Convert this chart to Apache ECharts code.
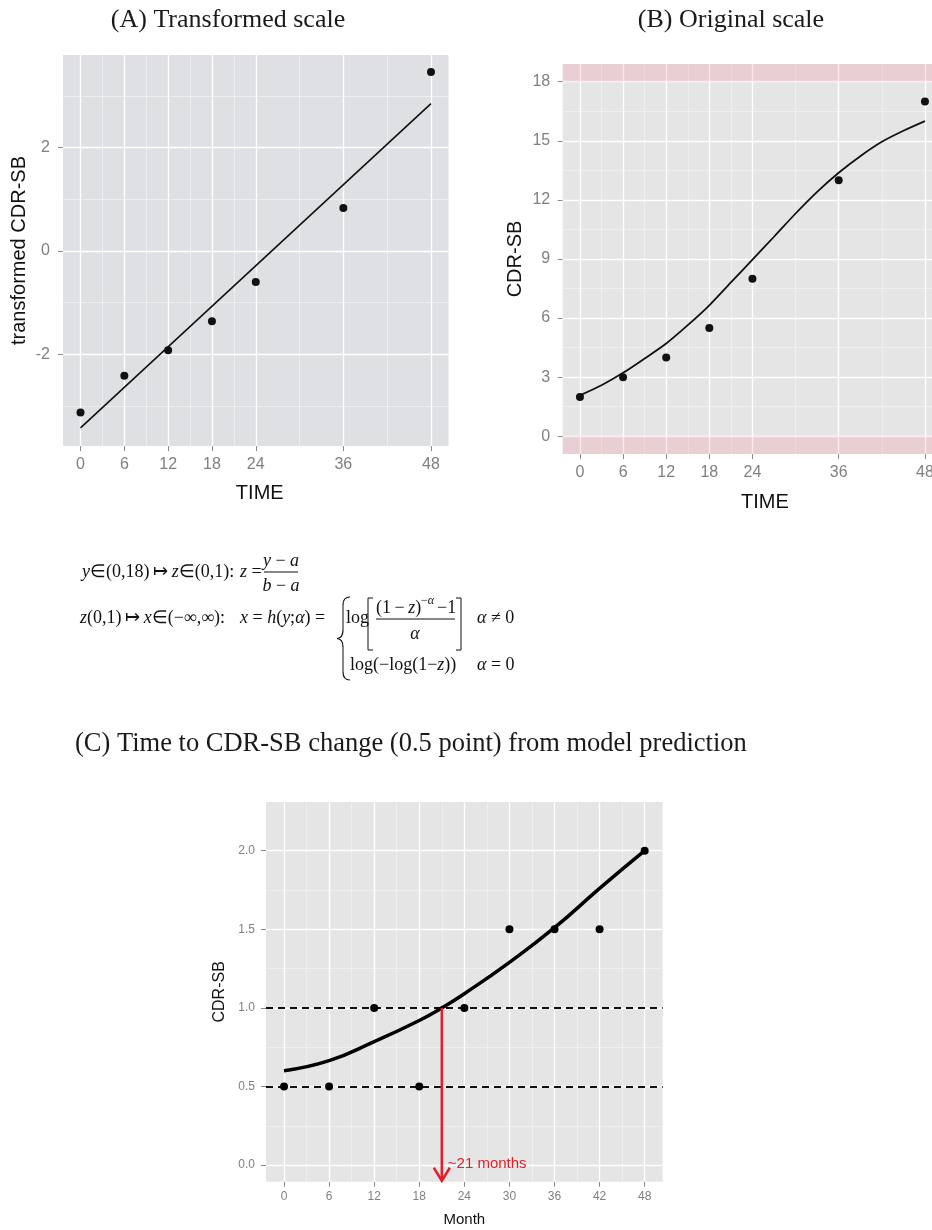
<!DOCTYPE html>
<html>
<head>
<meta charset="utf-8">
<script src="https://cdn.jsdelivr.net/npm/echarts@6/dist/echarts.min.js"></script>
<style>
html,body{margin:0;padding:0;background:#fff;}
#chart{width:932px;height:1230px;}
</style>
</head>
<body>
<div id="chart"></div>
<script>
// ---------- data ----------
// Panel A: transformed scale
const timeA = [0, 6, 12, 18, 24, 36, 48];
const transformedA = [-3.12, -2.41, -1.92, -1.36, -0.60, 0.83, 3.46];
const fitTimeA = [0, 48];
const fitTransformedA = [-3.42, 2.85];

// Panel B: original scale
const timeB = [0, 6, 12, 18, 24, 36, 48];
const cdrB = [2, 3, 4, 5.5, 8, 13, 17];
const curveTimeB = [0, 3, 6, 9, 12, 15, 18, 21, 24, 27, 30, 33, 36, 39, 42, 45, 48];
const curveCdrB = [2.08, 2.59, 3.22, 3.95, 4.71, 5.64, 6.65, 7.81, 8.97, 10.13, 11.31, 12.41, 13.38, 14.22, 14.95, 15.51, 16.0];
const boundsB = [0, 18]; // scale limits (a, b)

// Panel C: time to change
const monthC = [0, 6, 12, 18, 24, 30, 36, 42, 48];
const cdrC = [0.5, 0.5, 1.0, 0.5, 1.0, 1.5, 1.5, 1.5, 2.0];
const curveMonthC = [0, 6, 12, 18, 21, 24, 30, 36, 42, 48];
const curveCdrC = [0.60, 0.664, 0.785, 0.92, 1.0, 1.09, 1.29, 1.51, 1.76, 2.0];
const thresholdsC = [0.5, 1.0];
const arrowMonth = 21;
const arrowFrom = 1.0;
const arrowTo = -0.1;
const arrowLabel = '~21 months';

// ticks
const xTicksAB = [0, 6, 12, 18, 24, 36, 48];
const xMinorAB = [3, 9, 15, 21, 30, 42];
const yTicksA = [-2, 0, 2];
const yMinorA = [-3, -1, 1, 3];
const yTicksB = [0, 3, 6, 9, 12, 15, 18];
const yMinorB = [1.5, 4.5, 7.5, 10.5, 13.5, 16.5];
const xTicksC = [0, 6, 12, 18, 24, 30, 36, 42, 48];
const xMinorC = [3, 9, 15, 21, 27, 33, 39, 45];
const yTicksC = [0, 0.5, 1.0, 1.5, 2.0];
const yMinorC = [0.25, 0.75, 1.25, 1.75];

// axis ranges
const xRange = [-2.4, 50.4];
const yRangeA = [-3.77, 3.79];
const yRangeB = [-0.9, 18.9];
const yRangeC = [-0.106, 2.31];

// ---------- helpers ----------
const SANS = '"Liberation Sans", Arial, sans-serif';
const SERIF = '"Liberation Serif", "Times New Roman", serif';
const zip = (a, b) => a.map((v, i) => [v, b[i]]);

function gridLines(xMajor, xMinor, yMajor, yMinor) {
  const major = {color: '#ffffff', width: 1.4, type: 'solid'};
  const minor = {color: '#f3f3f3', width: 0.7, type: 'solid'};
  return [].concat(
    xMinor.map(v => ({xAxis: v, lineStyle: minor})),
    yMinor.map(v => ({yAxis: v, lineStyle: minor})),
    xMajor.map(v => ({xAxis: v, lineStyle: major})),
    yMajor.map(v => ({yAxis: v, lineStyle: major}))
  );
}

const TICK = {show: true, inside: false, length: 5, lineStyle: {color: '#8a8a8a', width: 1}};
function xAxisDef(idx, ticks, fontSize, margin, name, nameSize, nameGap, shift) {
  return {
    type: 'value', gridIndex: idx, min: xRange[0], max: xRange[1],
    axisLine: {show: true, onZero: false, lineStyle: {color: 'rgba(0,0,0,0)', width: 0}},
    splitLine: {show: false},
    axisTick: Object.assign({customValues: ticks}, TICK),
    axisLabel: {customValues: ticks, color: '#808080', fontSize: fontSize, fontFamily: SANS, margin: margin},
    name: name, nameLocation: 'middle', nameGap: nameGap, nameMoveOverlap: false,
    nameTextStyle: {fontSize: nameSize, fontFamily: SANS, color: '#111', padding: [0, 0, 0, shift]}
  };
}
function yAxisDef(idx, range, ticks, fontSize, margin, name, nameSize, nameGap, fmt) {
  return {
    type: 'value', gridIndex: idx, min: range[0], max: range[1],
    axisLine: {show: true, onZero: false, lineStyle: {color: 'rgba(0,0,0,0)', width: 0}},
    splitLine: {show: false},
    axisTick: Object.assign({customValues: ticks}, TICK),
    axisLabel: {customValues: ticks, color: '#808080', fontSize: fontSize, fontFamily: SANS, margin: margin,
      formatter: fmt || (v => String(v))},
    name: name, nameLocation: 'middle', nameGap: nameGap, nameRotate: 90, nameMoveOverlap: false,
    nameTextStyle: {fontSize: nameSize, fontFamily: SANS, color: '#111'}
  };
}

// ---------- formula graphics ----------
const FS = 18;
const TS = '\u2009'; // thin space
function ftext(x, y, text, align, size) {
  const s = size || FS;
  return {
    type: 'text', x: x, y: y, silent: true,
    style: {
      text: text, fontSize: s, fontFamily: SERIF, fill: '#111',
      align: align || 'left', verticalAlign: 'middle',
      textAlign: align || 'left', textVerticalAlign: 'middle',
      rich: {i: {fontStyle: 'italic', fontSize: s, fontFamily: SERIF, fill: '#111'}}
    }
  };
}
function fline(x1, y1, x2, y2) {
  return {type: 'line', silent: true, shape: {x1: x1, y1: y1, x2: x2, y2: y2}, style: {stroke: '#111', lineWidth: 1}};
}
function fcurve(x1, y1, cx, cy, x2, y2) {
  return {type: 'bezierCurve', silent: true, shape: {x1: x1, y1: y1, cpx1: cx, cpy1: cy, x2: x2, y2: y2},
          style: {stroke: '#111', lineWidth: 1.2, fill: null}};
}
function fpoly(points) {
  return {type: 'polyline', silent: true, shape: {points: points}, style: {stroke: '#111', lineWidth: 1, fill: null}};
}
const formula = [
  ftext(82, 572, '{i|y}∈(0,18)' + TS + '↦' + TS + '{i|z}∈(0,1):'),
  ftext(240, 572, '{i|z} ='),
  ftext(281, 561, '{i|y} − {i|a}', 'center'),
  fline(264, 572, 298, 572),
  ftext(281, 586, '{i|b} − {i|a}', 'center'),
  ftext(80, 618, '{i|z}(0,1)' + TS + '↦' + TS + '{i|x}∈(−∞,∞):'),
  ftext(240, 618, '{i|x} = {i|h}({i|y};{i|α}) ='),
  fcurve(350, 597, 343, 597, 343, 605),
  fline(343, 605, 343, 630),
  fcurve(343, 630, 343, 638, 337, 638.5),
  fcurve(337, 638.5, 343, 639, 343, 647),
  fline(343, 647, 343, 672),
  fcurve(343, 672, 343, 680, 350, 680),
  ftext(346, 618, 'log'),
  fpoly([[373, 598], [368, 598], [368, 650], [373, 650]]),
  fpoly([[456, 598], [461, 598], [461, 650], [456, 650]]),
  ftext(376, 608, '(1' + TS + '−' + TS + '{i|z})'),
  ftext(421, 601, '−{i|α}', 'left', 12),
  ftext(437, 608, '−1'),
  fline(376, 619, 455, 619),
  ftext(415, 634, '{i|α}', 'center'),
  ftext(477, 618, '{i|α} ≠ 0'),
  ftext(350, 665, 'log(−log(1−{i|z}))'),
  ftext(477, 665, '{i|α} = 0')
];

// ---------- chart ----------
const chart = echarts.init(document.getElementById('chart'), null, {renderer: 'canvas'});
const titleStyle = {fontFamily: SERIF, fontWeight: 'normal', fontSize: 26, color: '#1a1a1a'};

const option = {
  animation: false,
  backgroundColor: '#ffffff',
  title: [
    {text: '(A) Transformed scale', left: 228, top: 7, padding: 0, textAlign: 'center', textStyle: titleStyle},
    {text: '(B) Original scale', left: 731, top: 7, padding: 0, textAlign: 'center', textStyle: titleStyle},
    {text: '(C) Time to CDR-SB change (0.5 point) from model prediction', left: 75, top: 731, padding: 0,
     textStyle: Object.assign({}, titleStyle, {fontSize: 26.5})}
  ],
  grid: [
    {left: 63, top: 55, width: 385.5, height: 391, show: true, backgroundColor: '#dfe0e4', borderWidth: 0, outerBoundsMode: 'none'},
    {left: 562.7, top: 64, width: 379.5, height: 390, show: true, backgroundColor: '#e5e5e5', borderWidth: 0, outerBoundsMode: 'none'},
    {left: 266, top: 802, width: 396.7, height: 379.7, show: true, backgroundColor: '#e5e5e5', borderWidth: 0, outerBoundsMode: 'none'}
  ],
  xAxis: [
    xAxisDef(0, xTicksAB, 16, 11, 'TIME', 20, 37, 8),
    xAxisDef(1, xTicksAB, 16, 11, 'TIME', 20, 38, 25),
    xAxisDef(2, xTicksC, 12, 9, 'Month', 15, 31, 0)
  ],
  yAxis: [
    yAxisDef(0, yRangeA, yTicksA, 16, 13, 'transformed CDR-SB', 20, 34),
    yAxisDef(1, yRangeB, yTicksB, 16, 12.5, 'CDR-SB', 20, 37),
    yAxisDef(2, yRangeC, yTicksC, 12, 11, 'CDR-SB', 16, 38, v => v.toFixed(1))
  ],
  graphic: formula,
  series: [
    // --- panel A ---
    {type: 'line', name: 'gridA', xAxisIndex: 0, yAxisIndex: 0, data: [], silent: true, z: 1,
     markLine: {silent: true, symbol: 'none', label: {show: false}, z: 1, animation: false,
       data: gridLines(xTicksAB, xMinorAB, yTicksA, yMinorA)}},
    {type: 'line', name: 'fitA', xAxisIndex: 0, yAxisIndex: 0, data: zip(fitTimeA, fitTransformedA),
     showSymbol: false, lineStyle: {color: '#111', width: 1.6}, z: 4, silent: true},
    {type: 'scatter', name: 'obsA', xAxisIndex: 0, yAxisIndex: 0, data: zip(timeA, transformedA),
     symbolSize: 8, itemStyle: {color: '#111', opacity: 1}, z: 5},
    // --- panel B ---
    {type: 'line', name: 'gridB', xAxisIndex: 1, yAxisIndex: 1, data: [], silent: true, z: 1,
     markLine: {silent: true, symbol: 'none', label: {show: false}, z: 1, animation: false,
       data: gridLines(xTicksAB, xMinorAB, yTicksB, yMinorB)},
     markArea: {silent: true, z: 3, itemStyle: {color: 'rgba(255,40,70,0.11)'},
       data: [[{yAxis: boundsB[1]}, {yAxis: yRangeB[1]}], [{yAxis: yRangeB[0]}, {yAxis: boundsB[0]}]]}},
    {type: 'line', name: 'curveB', xAxisIndex: 1, yAxisIndex: 1, data: zip(curveTimeB, curveCdrB),
     showSymbol: false, smooth: 0.3, lineStyle: {color: '#111', width: 1.8}, z: 4, silent: true},
    {type: 'scatter', name: 'obsB', xAxisIndex: 1, yAxisIndex: 1, data: zip(timeB, cdrB),
     symbolSize: 8, itemStyle: {color: '#111', opacity: 1}, z: 5},
    // --- panel C ---
    {type: 'line', name: 'gridC', xAxisIndex: 2, yAxisIndex: 2, data: [], silent: true, z: 1,
     markLine: {silent: true, symbol: 'none', label: {show: false}, z: 1, animation: false,
       data: gridLines(xTicksC, xMinorC, yTicksC, yMinorC)}},
    {type: 'line', name: 'thresholdC', xAxisIndex: 2, yAxisIndex: 2, data: [], silent: true, z: 3,
     markLine: {silent: true, symbol: 'none', label: {show: false}, z: 3, animation: false,
       lineStyle: {color: '#111', width: 1.8, type: [7, 5]},
       data: thresholdsC.map(v => ({yAxis: v}))}},
    {type: 'line', name: 'curveC', xAxisIndex: 2, yAxisIndex: 2, data: zip(curveMonthC, curveCdrC),
     showSymbol: false, smooth: 0.5, lineStyle: {color: '#000', width: 3.5}, z: 4, silent: true},
    {type: 'scatter', name: 'obsC', xAxisIndex: 2, yAxisIndex: 2, data: zip(monthC, cdrC),
     symbolSize: 8, itemStyle: {color: '#000', opacity: 1}, z: 5},
    {type: 'custom', name: 'arrowC', xAxisIndex: 2, yAxisIndex: 2, z: 6, silent: true, clip: false,
     data: [[arrowMonth, arrowFrom, arrowTo]],
     renderItem: function (params, api) {
       const p0 = api.coord([api.value(0), api.value(1)]);
       const p1 = api.coord([api.value(0), api.value(2)]);
       const ly = api.coord([api.value(0), 0])[1];
       const red = '#e0202b';
       return {type: 'group', children: [
         {type: 'line', shape: {x1: p0[0], y1: p0[1], x2: p1[0], y2: p1[1]}, style: {stroke: red, lineWidth: 2.5}},
         {type: 'polyline', shape: {points: [[p1[0] - 8, p1[1] - 13], [p1[0], p1[1]], [p1[0] + 8, p1[1] - 13]]},
          style: {stroke: red, lineWidth: 2.5, fill: null}},
         {type: 'text', x: p1[0] + 6, y: ly - 1,
          style: {text: arrowLabel, fill: red, fontSize: 15, fontFamily: SANS,
                  align: 'left', verticalAlign: 'middle', textAlign: 'left', textVerticalAlign: 'middle'}}
       ]};
     }}
  ]
};
chart.setOption(option);
</script>
</body>
</html>
